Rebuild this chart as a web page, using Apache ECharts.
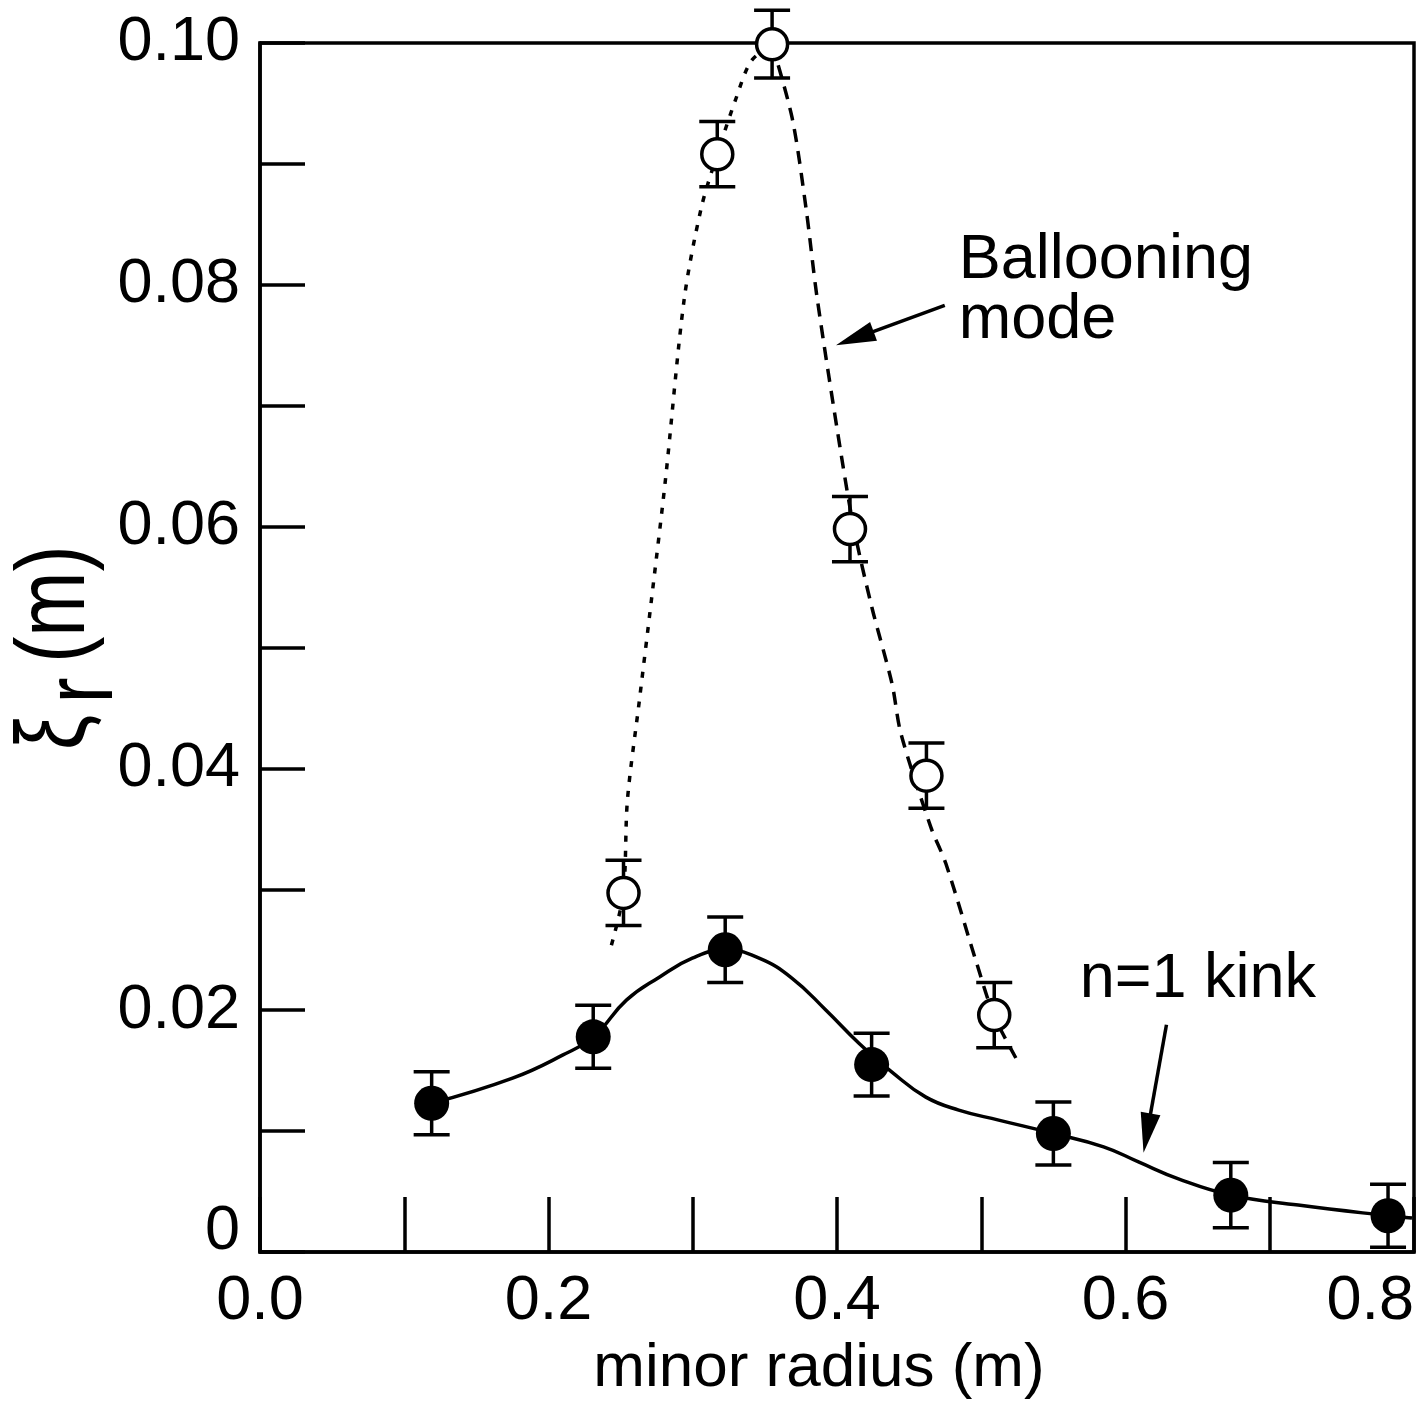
<!DOCTYPE html>
<html>
<head>
<meta charset="utf-8">
<script src="https://cdn.jsdelivr.net/npm/echarts@6/dist/echarts.min.js"></script>
<style>
html, body { margin: 0; padding: 0; background: #fff; }
#chart { width: 1427px; height: 1422px; }
</style>
</head>
<body>
<div id="chart"></div>
<script>
// n=1 kink (filled circles)
var kinkX = [0.119, 0.231, 0.3225, 0.424, 0.550, 0.673, 0.782];
var kinkY = [0.0123, 0.0178, 0.0250, 0.0155, 0.0098, 0.0047, 0.0030];
var kinkErr = [0.0026, 0.0026, 0.0027, 0.0026, 0.0026, 0.0027, 0.0026];

// ballooning mode (open circles)
var ballX = [0.252, 0.317, 0.355, 0.409, 0.462, 0.509];
var ballY = [0.0297, 0.0908, 0.0999, 0.0598, 0.0394, 0.0196];
var ballErr = [0.0027, 0.0027, 0.0028, 0.0027, 0.0027, 0.0027];

// curves as drawn in the figure
var kinkCurveX = [0.119, 0.1751, 0.2097, 0.2311, 0.2540, 0.2768, 0.2997, 0.3225, 0.3460, 0.3689,
                  0.3924, 0.4152, 0.4381, 0.4616, 0.4844, 0.5121, 0.5502, 0.5848, 0.6090, 0.6367,
                  0.6734, 0.7197, 0.7820, 0.7986];
var kinkCurveY = [0.0123, 0.01438, 0.01628, 0.0178, 0.02083, 0.02273, 0.02430, 0.0250, 0.02430, 0.02264,
                  0.02000, 0.01727, 0.01488, 0.01281, 0.01174, 0.01091, 0.0098, 0.00870, 0.00745, 0.00605,
                  0.0047, 0.00388, 0.0030, 0.00281];
var ballLeftX = [0.2436, 0.2519, 0.2547, 0.2630, 0.2713, 0.2810, 0.2941, 0.3059, 0.3170, 0.3301, 0.3405, 0.3550];
var ballLeftY = [0.02537, 0.0297, 0.03736, 0.04562, 0.05388, 0.06380, 0.07884, 0.08636, 0.0908, 0.09545, 0.09851, 0.0999];
var ballRightX = [0.3550, 0.3689, 0.3785, 0.3862, 0.4028, 0.4118, 0.4242, 0.4381, 0.4443, 0.4651, 0.4754, 0.4962, 0.5087, 0.5260];
var ballRightY = [0.0999, 0.09380, 0.08636, 0.07893, 0.06603, 0.0598, 0.05331, 0.04702, 0.04289, 0.03512, 0.03215, 0.02413, 0.0196, 0.01562];

var xLabels = ['0.0', '0.2', '0.4', '0.6', '0.8'];
var yLabels = ['0', '0.02', '0.04', '0.06', '0.08', '0.10'];

var notes = ['Ballooning\nmode', 'n=1 kink'];
var noteX = [0.4844, 0.5682];
var noteY = [0.0845, 0.0250];
var arrowFrom = [[0.4747, 0.0783], [0.6284, 0.0188]];
var arrowTo = [[0.3993, 0.0750], [0.6125, 0.0082]];

var FONT = '"Liberation Sans", Arial, Helvetica, sans-serif';
var LW = 3.5;

function pairs(xs, ys) {
    return xs.map(function (x, i) { return [x, ys[i]]; });
}

function errorBars(name, xs, ys, errs) {
    return {
        name: name,
        type: 'custom',
        silent: true,
        z: 2,
        data: xs.map(function (x, i) { return [x, ys[i] - errs[i], ys[i] + errs[i]]; }),
        encode: {x: 0, y: [1, 2]},
        renderItem: function (params, api) {
            var lo = api.coord([api.value(0), api.value(1)]);
            var hi = api.coord([api.value(0), api.value(2)]);
            var hw = 18;
            var st = {stroke: '#000', lineWidth: LW};
            return {
                type: 'group',
                children: [
                    {type: 'line', shape: {x1: lo[0], y1: lo[1], x2: hi[0], y2: hi[1]}, style: st},
                    {type: 'line', shape: {x1: lo[0] - hw, y1: lo[1], x2: lo[0] + hw, y2: lo[1]}, style: st},
                    {type: 'line', shape: {x1: hi[0] - hw, y1: hi[1], x2: hi[0] + hw, y2: hi[1]}, style: st}
                ]
            };
        }
    };
}

var chart = echarts.init(document.getElementById('chart'));

var option = {
    animation: false,
    backgroundColor: '#fff',
    grid: {
        left: 260, right: 13, top: 43, bottom: 170,
        show: true, borderColor: '#000', borderWidth: LW
    },
    xAxis: {
        type: 'value',
        min: 0, max: 0.8, interval: 0.2,
        name: 'minor radius (m)',
        nameLocation: 'middle',
        nameGap: 86,
        nameTextStyle: {fontSize: 62, color: '#000', fontFamily: FONT, padding: [0, 36, 0, 0]},
        axisLine: {lineStyle: {color: '#000', width: LW}},
        axisTick: {inside: true, length: 55, lineStyle: {color: '#000', width: LW}},
        minorTick: {show: true, splitNumber: 2, length: 55, lineStyle: {color: '#000', width: LW}},
        splitLine: {show: false},
        axisLabel: {
            fontSize: 63, color: '#000', fontFamily: FONT, margin: 18,
            alignMaxLabel: 'right',
            formatter: function (v) { return xLabels[Math.round(v / 0.2)]; }
        }
    },
    yAxis: {
        type: 'value',
        min: 0, max: 0.1, interval: 0.02,
        axisLine: {lineStyle: {color: '#000', width: LW}},
        axisTick: {inside: true, length: 45, lineStyle: {color: '#000', width: LW}},
        minorTick: {show: true, splitNumber: 2, length: 45, lineStyle: {color: '#000', width: LW}},
        splitLine: {show: false},
        axisLabel: {
            fontSize: 63, color: '#000', fontFamily: FONT, margin: 20,
            verticalAlignMinLabel: 'bottom',
            formatter: function (v) {
                var i = Math.round(v / 0.02);
                return i === 0 ? '{z|' + yLabels[0] + '}' : yLabels[i];
            },
            rich: {z: {fontSize: 63, fontFamily: FONT, color: '#000', lineHeight: 40}}
        }
    },
    graphic: [{
        type: 'group',
        x: 86, y: 750,
        rotation: Math.PI / 2,
        scaleX: 0.8,
        children: [
            {type: 'text', x: 0, y: 20, style: {text: 'ξ', font: '98px ' + FONT, fill: '#000', align: 'left', verticalAlign: 'bottom'}},
            {type: 'text', x: 58, y: 48, style: {text: 'r', font: '98px ' + FONT, fill: '#000', align: 'left', verticalAlign: 'bottom'}},
            {type: 'text', x: 109, y: 20, style: {text: '(m)', font: '98px ' + FONT, fill: '#000', align: 'left', verticalAlign: 'bottom'}}
        ]
    }],
    series: [
        {
            name: 'kink curve', type: 'line', data: pairs(kinkCurveX, kinkCurveY),
            smooth: 0.45, showSymbol: false, symbol: 'none', z: 1, silent: true,
            lineStyle: {color: '#000', width: LW}
        },
        {
            name: 'ballooning left', type: 'line', data: pairs(ballLeftX, ballLeftY),
            smooth: 0.3, showSymbol: false, symbol: 'none', z: 1, silent: true,
            lineStyle: {color: '#000', width: LW, type: [6, 9]}
        },
        {
            name: 'ballooning right', type: 'line', data: pairs(ballRightX, ballRightY),
            smooth: 0.3, showSymbol: false, symbol: 'none', z: 1, silent: true,
            lineStyle: {color: '#000', width: LW, type: [13, 9]}
        },
        errorBars('kink err', kinkX, kinkY, kinkErr),
        errorBars('ballooning err', ballX, ballY, ballErr),
        {
            name: 'n=1 kink', type: 'scatter', data: pairs(kinkX, kinkY), z: 3, clip: false,
            symbol: 'circle', symbolSize: 35,
            itemStyle: {color: '#000', opacity: 1}
        },
        {
            name: 'Ballooning mode', type: 'scatter', data: pairs(ballX, ballY), z: 3, clip: false,
            symbol: 'circle', symbolSize: 31,
            itemStyle: {color: '#fff', borderColor: '#000', borderWidth: LW, opacity: 1}
        },
        {
            name: 'notes', type: 'custom', silent: true, z: 4,
            data: notes.map(function (t, i) {
                return [noteX[i], noteY[i], arrowFrom[i][0], arrowFrom[i][1], arrowTo[i][0], arrowTo[i][1]];
            }),
            renderItem: function (params, api) {
                var i = params.dataIndex;
                var p = api.coord([api.value(0), api.value(1)]);
                var a = api.coord([api.value(2), api.value(3)]);
                var b = api.coord([api.value(4), api.value(5)]);
                var dx = b[0] - a[0], dy = b[1] - a[1];
                var len = Math.sqrt(dx * dx + dy * dy);
                var ux = dx / len, uy = dy / len;
                var hl = 40, hw = 10;
                var bx = b[0] - ux * hl, by = b[1] - uy * hl;
                return {
                    type: 'group',
                    children: [
                        {
                            type: 'text', x: p[0], y: p[1],
                            style: {text: notes[i], font: '63px ' + FONT, fill: '#000',
                                    align: 'left', verticalAlign: 'top', lineHeight: 60}
                        },
                        {
                            type: 'line', shape: {x1: a[0], y1: a[1], x2: bx + ux * 4, y2: by + uy * 4},
                            style: {stroke: '#000', lineWidth: LW}
                        },
                        {
                            type: 'polygon',
                            shape: {points: [[b[0], b[1]], [bx - uy * hw, by + ux * hw], [bx + uy * hw, by - ux * hw]]},
                            style: {fill: '#000'}
                        }
                    ]
                };
            }
        }
    ]
};

chart.setOption(option);
</script>
</body>
</html>
